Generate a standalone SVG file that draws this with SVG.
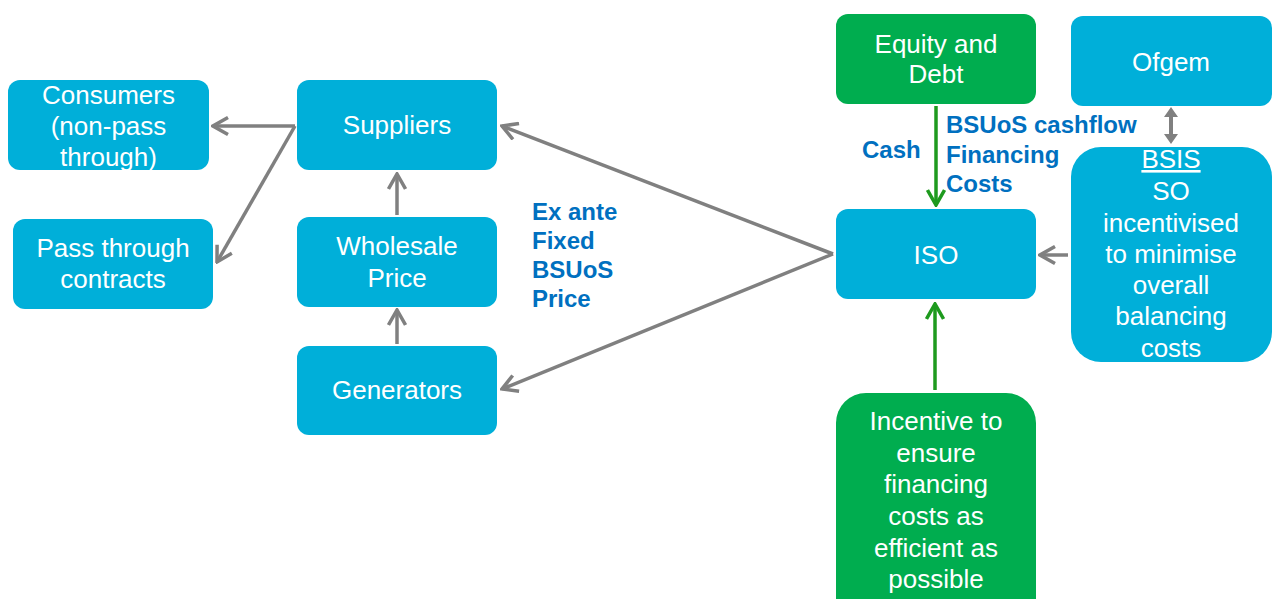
<svg xmlns="http://www.w3.org/2000/svg" width="1274" height="599" viewBox="0 0 1274 599">
<style>
.b{fill:#00AFD9}
.g{fill:#00AD4F}
.t{font-family:"Liberation Sans",Arial,sans-serif;font-size:26px;fill:#fff;text-anchor:middle}
.l{font-family:"Liberation Sans",Arial,sans-serif;font-size:24px;font-weight:bold;fill:#0070C0}
.ga{stroke:#808080;stroke-width:3.5;fill:none}
.gr{stroke:#1E9A1E;stroke-width:3.5;fill:none}
</style>
<defs>
<marker id="ag" viewBox="0 0 20 20" refX="18" refY="10" markerUnits="userSpaceOnUse" markerWidth="20" markerHeight="20" orient="auto">
<path d="M3,1.5 L18,10 L3,18.5" fill="none" stroke="#808080" stroke-width="3.5"/>
</marker>
<marker id="ar" viewBox="0 0 20 20" refX="18" refY="10" markerUnits="userSpaceOnUse" markerWidth="20" markerHeight="20" orient="auto">
<path d="M3,1.5 L18,10 L3,18.5" fill="none" stroke="#1E9A1E" stroke-width="3.5"/>
</marker>
</defs>
<rect width="1274" height="599" fill="#fff"/>
<g id="connectors">
<line class="ga" x1="295" y1="126" x2="213" y2="126" marker-end="url(#ag)"/>
<line class="ga" x1="295" y1="126" x2="217" y2="262" marker-end="url(#ag)"/>
<line class="ga" x1="397" y1="215" x2="397" y2="174" marker-end="url(#ag)"/>
<line class="ga" x1="397" y1="344" x2="397" y2="310" marker-end="url(#ag)"/>
<line class="ga" x1="833" y1="254" x2="502" y2="126" marker-end="url(#ag)"/>
<line class="ga" x1="833" y1="254" x2="502" y2="389" marker-end="url(#ag)"/>
<line class="ga" x1="1068" y1="255" x2="1040" y2="255" marker-end="url(#ag)"/>
<polygon fill="#808080" points="1171,107 1178,117 1173,117 1173,134 1178,134 1171,144 1164,134 1169,134 1169,117 1164,117"/>
<line class="gr" x1="936" y1="106" x2="936" y2="205" marker-end="url(#ar)"/>
<line class="gr" x1="935" y1="390" x2="935" y2="304" marker-end="url(#ar)"/>
</g>
<g id="consumers"><rect class="b" x="8" y="80" width="201" height="90" rx="12"/>
<text class="t" x="108.5" y="104">Consumers</text><text class="t" x="108.5" y="135">(non-pass</text><text class="t" x="108.5" y="166">through)</text></g>
<g id="passthrough"><rect class="b" x="13" y="219" width="200" height="90" rx="12"/>
<text class="t" x="113" y="257">Pass through</text><text class="t" x="113" y="288">contracts</text></g>
<g id="suppliers"><rect class="b" x="297" y="80" width="200" height="90" rx="12"/>
<text class="t" x="397" y="134">Suppliers</text></g>
<g id="wholesale"><rect class="b" x="297" y="217" width="200" height="90" rx="12"/>
<text class="t" x="397" y="255">Wholesale</text><text class="t" x="397" y="287">Price</text></g>
<g id="generators"><rect class="b" x="297" y="346" width="200" height="89" rx="12"/>
<text class="t" x="397" y="399">Generators</text></g>
<g id="equity"><rect class="g" x="836" y="14" width="200" height="90" rx="12"/>
<text class="t" x="936" y="53">Equity and</text><text class="t" x="936" y="83">Debt</text></g>
<g id="ofgem"><rect class="b" x="1071" y="16" width="201" height="90" rx="12"/>
<text class="t" x="1171" y="71">Ofgem</text></g>
<g id="bsis"><rect class="b" x="1071" y="147" width="201" height="215" rx="30"/>
<text class="t" x="1171" y="168" text-decoration="underline">BSIS</text>
<text class="t" x="1171" y="200">SO</text>
<text class="t" x="1171" y="232">incentivised</text>
<text class="t" x="1171" y="263">to minimise</text>
<text class="t" x="1171" y="294">overall</text>
<text class="t" x="1171" y="325">balancing</text>
<text class="t" x="1171" y="357">costs</text></g>
<g id="iso"><rect class="b" x="836" y="209" width="200" height="90" rx="12"/>
<text class="t" x="936" y="264">ISO</text></g>
<g id="incentive"><rect class="g" x="836" y="393" width="200" height="240" rx="30"/>
<text class="t" x="936" y="430">Incentive to</text>
<text class="t" x="936" y="462">ensure</text>
<text class="t" x="936" y="493">financing</text>
<text class="t" x="936" y="525">costs as</text>
<text class="t" x="936" y="557">efficient as</text>
<text class="t" x="936" y="588">possible</text></g>
<g id="labels">
<text class="l" x="862" y="158">Cash</text>
<text class="l" x="946" y="133">BSUoS cashflow</text>
<text class="l" x="946" y="163">Financing</text>
<text class="l" x="946" y="192">Costs</text>
<text class="l" x="532" y="220">Ex ante</text>
<text class="l" x="532" y="249">Fixed</text>
<text class="l" x="532" y="278">BSUoS</text>
<text class="l" x="532" y="307">Price</text>
</g>
</svg>
